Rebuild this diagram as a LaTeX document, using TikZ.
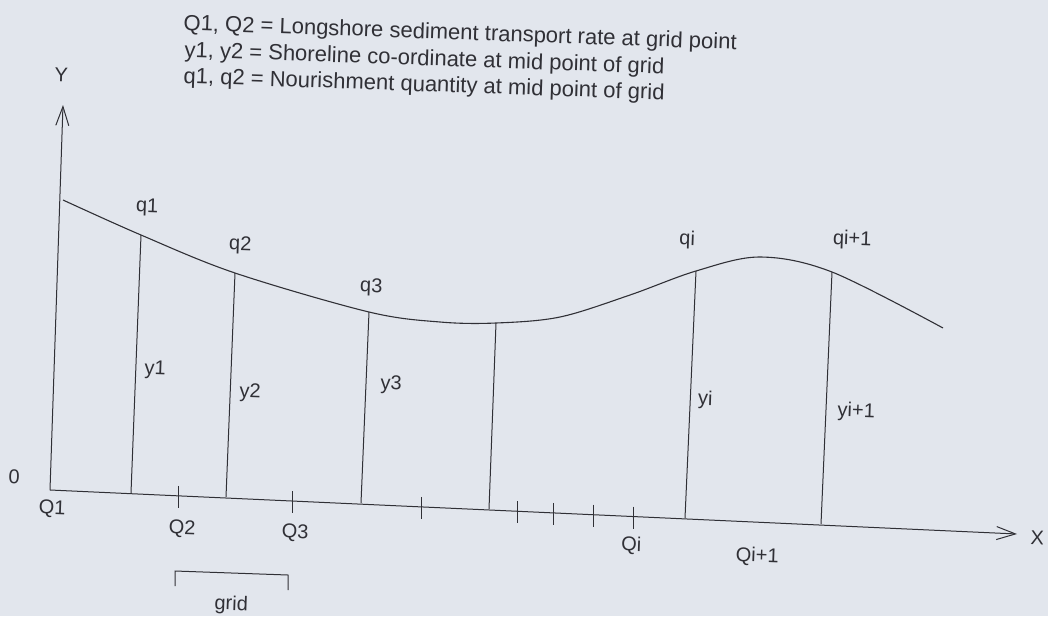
\documentclass[tikz,border=0pt]{standalone}
\usepackage{fontspec}
\setmainfont{Liberation Sans}
\usetikzlibrary{arrows.meta}
\definecolor{paper}{RGB}{226,230,237}
\definecolor{ink}{RGB}{48,48,54}

\begin{document}
\begin{tikzpicture}[
  x=0.5pt,y=-0.5pt,
  >={Straight Barb[length=9.5pt,width=6.5pt]},
  axis/.style={ink,->,line width=0.5pt},
  shore/.style={ink,line width=0.55pt},
  ord/.style={ink,line width=0.5pt},
  note/.style={ink,inner sep=0pt,anchor=base,rotate=-2,font=\fontsize{10}{12}\selectfont},
  legend/.style={ink,inner sep=0pt,anchor=base west,rotate=-2,font=\fontsize{11}{13}\selectfont}
]
  \fill[paper] (0,0) rectangle (1048,616);
  \useasboundingbox (0,0) rectangle (1048,616);

  % axes
  \coordinate (O) at (50,490);
  \coordinate (Ytop) at (63,105);
  \coordinate (Xend) at (1017,534);
  \draw[axis] (O) -- (Ytop);
  \draw[axis] (O) -- (Xend);
  \node[note] (ylab) at (61,82) {Y};
  \node[note] (xlab) at (1037,545) {X};
  \node[note] (zero) at (14,484) {0};

  % shoreline
  \draw[shore] plot[smooth,tension=0.55] coordinates {
    (63,200) (141,235) (235,273) (369,312) (440,322) (496,323)
    (560,317) (630,295) (696,271) (760,257) (832,272) (943,328)};

  % ordinates between shoreline and axis
  \coordinate (t1) at (141,235); \coordinate (b1) at (131,493);
  \coordinate (t2) at (235,273); \coordinate (b2) at (226,497);
  \coordinate (t3) at (369,312); \coordinate (b3) at (361,503);
  \coordinate (t4) at (496,323); \coordinate (b4) at (489,509);
  \coordinate (t5) at (696,271); \coordinate (b5) at (685,518);
  \coordinate (t6) at (832,272); \coordinate (b6) at (821,524);
  \foreach \i in {1,...,6}
    \draw[ord] (t\i) -- (b\i);

  % grid ticks on the axis
  \foreach \x in {178,292,421,517,553,593,633}
    \draw[ord] (\x,{490+(\x-50)*0.0455-10}) -- ++(0,22);

  % labels
  \node[note] (q1) at (147,212) {q1};
  \node[note] (q2) at (240,250) {q2};
  \node[note] (q3) at (371,292) {q3};
  \node[note] (qi) at (687,245) {qi};
  \node[note] (qi1) at (852,245) {qi+1};
  \node[note] (y1) at (155,375) {y1};
  \node[note] (y2) at (250,398) {y2};
  \node[note] (y3) at (391,390) {y3};
  \node[note] (yi) at (705,405) {yi};
  \node[note] (yi1) at (856,417) {yi+1};
  \node[note] (Q1) at (52,514) {Q1};
  \node[note] (Q2) at (182,534) {Q2};
  \node[note] (Q3) at (295,538) {Q3};
  \node[note] (Qi) at (631,551) {Qi};
  \node[note] (Qi1) at (757,562) {Qi+1};

  % grid spacing
  \draw[ord] (175,586) -- (175,571) -- (288,575) -- (288,590);
  \node[note] (gridlab) at (231,610) {grid};

  % legend
  \node[legend] (leg1) at (183,30) {Q1, Q2 = Longshore sediment transport rate at grid point};
  \node[legend] (leg2) at (184,57) {y1, y2 = Shoreline co-ordinate at mid point of grid};
  \node[legend] (leg3) at (183,83) {q1, q2 = Nourishment quantity at mid point of grid};
\end{tikzpicture}
\end{document}
